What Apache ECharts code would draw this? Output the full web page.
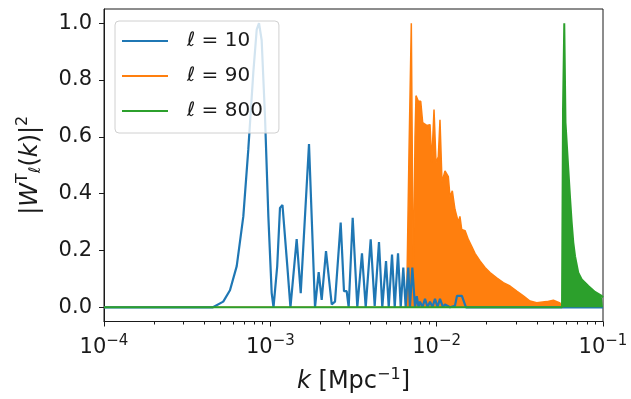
<!DOCTYPE html>
<html>
<head>
<meta charset="utf-8">
<script src="https://cdn.jsdelivr.net/npm/echarts@6/dist/echarts.min.js"></script>
<style>
  html, body { margin: 0; padding: 0; background: #fff; }
  #chart { width: 631px; height: 399px; }
</style>
</head>
<body>
<div id="chart"></div>
<script>
// multipoles shown in the legend
const ells = ['10', '90', '800'];
const colors = ['#1f77b4', '#ff7f0e', '#2ca02c'];

// l = 10 window
const kL10 = [1e-4, 4.52e-4, 5.21e-4, 5.72e-4, 6.28e-4, 6.88e-4, 7.37e-4, 7.90e-4, 8.28e-4, 8.55e-4,
  8.87e-4, 9.29e-4, 9.73e-4, 1.019e-3, 1.045e-3, 1.10e-3, 1.143e-3, 1.183e-3, 1.213e-3, 1.265e-3,
  1.321e-3, 1.44e-3, 1.523e-3, 1.565e-3, 1.708e-3, 1.856e-3, 1.953e-3, 2.036e-3, 2.161e-3, 2.213e-3,
  2.339e-3, 2.448e-3, 2.648e-3, 2.772e-3, 2.877e-3, 2.958e-3, 3.127e-3, 3.333e-3, 3.556e-3, 3.744e-3,
  4.012e-3, 4.24e-3, 4.50e-3, 4.71e-3, 4.96e-3, 5.15e-3, 5.39e-3, 5.595e-3, 5.857e-3, 6.08e-3,
  6.30e-3, 6.51e-3, 6.75e-3, 6.91e-3, 7.14e-3, 7.41e-3, 7.59e-3, 7.78e-3, 7.94e-3, 8.22e-3,
  8.51e-3, 8.81e-3, 9.12e-3, 9.44e-3, 9.77e-3, 1.012e-2, 1.047e-2, 1.092e-2, 1.122e-2, 1.202e-2,
  1.288e-2, 1.324e-2, 1.418e-2, 1.50e-2, 0.1];
const wL10 = [0, 0, 0.02, 0.06, 0.145, 0.32, 0.555, 0.826, 0.977, 1.0,
  0.94, 0.67, 0.32, 0.05, 0, 0.145, 0.35, 0.36, 0.357, 0.145,
  0, 0.24, 0.05, 0.05, 0.575, 0, 0.124, 0.026, 0.198, 0.198,
  0.01, 0.02, 0.298, 0.057, 0.057, 0, 0.315, 0, 0.19, 0,
  0.239, 0.005, 0.23, 0, 0.163, 0, 0.186, 0, 0.19, 0,
  0.14, 0, 0.14, 0, 0.14, 0, 0.039, 0, 0.02, 0,
  0.03, 0, 0.02, 0, 0.03, 0, 0.03, 0, 0.01, 0,
  0.005, 0.04, 0.04, 0, 0];

// l = 90 window (envelope of the fast oscillations)
const kL90 = [1e-4, 6.59e-3, 6.82e-3, 7.04e-3, 7.24e-3, 7.41e-3, 7.51e-3, 7.76e-3, 8.02e-3, 8.24e-3,
  8.71e-3, 9.12e-3, 9.34e-3, 9.64e-3, 9.91e-3, 1.023e-2, 1.047e-2, 1.077e-2, 1.122e-2, 1.175e-2,
  1.202e-2, 1.242e-2, 1.288e-2, 1.349e-2, 1.38e-2, 1.414e-2, 1.481e-2, 1.55e-2, 1.624e-2, 1.70e-2,
  1.822e-2, 1.953e-2, 2.093e-2, 2.296e-2, 2.516e-2, 2.76e-2, 3.03e-2, 3.32e-2, 3.64e-2, 3.995e-2,
  4.59e-2, 5.03e-2, 5.51e-2, 5.65e-2, 0.1];
const wL90 = [0, 0, 0.55, 1.0, 0.05, 0.6, 0.745, 0.725, 0.725, 0.65,
  0.64, 0.643, 0.51, 0.696, 0.51, 0.53, 0.66, 0.44, 0.48, 0.46,
  0.39, 0.41, 0.345, 0.30, 0.32, 0.274, 0.27, 0.239, 0.215, 0.19,
  0.163, 0.14, 0.122, 0.104, 0.087, 0.075, 0.057, 0.04, 0.022, 0.016,
  0.02, 0.025, 0.015, 0, 0];

// l = 800 window
const kL800 = [1e-4, 5.67e-2, 5.75e-2, 5.85e-2, 5.95e-2, 6.05e-2, 6.18e-2, 6.33e-2, 6.48e-2, 6.63e-2,
  6.79e-2, 7.10e-2, 7.45e-2, 8.16e-2, 8.95e-2, 9.82e-2, 0.1];
const wL800 = [0, 0, 0.7, 1.0, 0.65, 0.58, 0.49, 0.39, 0.30, 0.228,
  0.18, 0.122, 0.098, 0.075, 0.054, 0.04, 0.035];

const yTicks = [0, 0.2, 0.4, 0.6, 0.8, 1.0];
const minorTicks = [2e-4, 3e-4, 4e-4, 5e-4, 6e-4, 7e-4, 8e-4, 9e-4,
  2e-3, 3e-3, 4e-3, 5e-3, 6e-3, 7e-3, 8e-3, 9e-3,
  2e-2, 3e-2, 4e-2, 5e-2, 6e-2, 7e-2, 8e-2, 9e-2];

const font = 'DejaVu Sans';
const ink = '#1a1a1a';
const zip = (k, w) => k.map((x, i) => [x, w[i]]);

const chart = echarts.init(document.getElementById('chart'), null, { renderer: 'canvas' });

chart.setOption({
  animation: false,
  backgroundColor: '#fff',
  grid: {
    left: 104, right: 28, top: 9, bottom: 76,
    show: true, borderColor: ink, borderWidth: 1
  },
  legend: {
    left: 115, top: 21,
    orient: 'vertical',
    padding: [8, 16, 10, 7],
    itemGap: 11,
    itemWidth: 46,
    itemHeight: 2,
    icon: 'rect',
    borderColor: '#d0d0d0', borderWidth: 1, borderRadius: 4,
    backgroundColor: 'rgba(255,255,255,0.8)',
    formatter: (name) => '{i|ℓ} = ' + name,
    textStyle: {
      fontFamily: font, fontSize: 20, color: ink, lineHeight: 24,
      padding: [0, 0, 0, 14],
      rich: { i: { fontFamily: font, fontSize: 20, fontStyle: 'italic', color: ink } }
    },
    data: ells
  },
  xAxis: [
    {
      type: 'log', logBase: 10, min: 1e-4, max: 0.1,
      position: 'bottom',
      axisLine: { onZero: false, lineStyle: { color: ink, width: 1 } },
      axisTick: { length: 5, lineStyle: { color: ink } },
      splitLine: { show: false },
      axisLabel: {
        margin: 12, fontFamily: font, fontSize: 21, color: ink,
        formatter: (v) => '10{sup|−' + Math.abs(Math.round(Math.log10(v))) + '}',
        rich: { sup: { fontFamily: font, fontSize: 15, color: ink, padding: [0, 0, 14, 0] } }
      },
      name: '{i|k} [Mpc{sup|−1}]',
      nameLocation: 'middle',
      nameGap: 45,
      nameTextStyle: {
        fontFamily: font, fontSize: 24, color: ink,
        rich: {
          i: { fontFamily: font, fontSize: 24, fontStyle: 'italic', color: ink },
          sup: { fontFamily: font, fontSize: 16, color: ink, padding: [0, 0, 15, 0] }
        }
      }
    },
    {
      // helper axis in log10 space that only draws the minor ticks
      type: 'value', min: -4, max: -1,
      position: 'bottom',
      axisLine: { show: false, onZero: false },
      axisLabel: { show: false },
      splitLine: { show: false },
      axisTick: {
        show: true, length: 3, lineStyle: { color: ink },
        customValues: minorTicks.map((t) => Math.log10(t))
      }
    }
  ],
  yAxis: {
    type: 'value', min: -0.05, max: 1.05,
    axisLine: { show: true, onZero: false, lineStyle: { color: ink, width: 1 } },
    axisTick: { show: true, length: 5, lineStyle: { color: ink }, customValues: yTicks },
    splitLine: { show: false },
    axisLabel: {
      margin: 12, fontFamily: font, fontSize: 21, color: ink,
      customValues: yTicks,
      formatter: (v) => v.toFixed(1)
    },
    name: '|{i|W}{sup|T}{sub|ℓ}({i|k})|{sup|2}',
    nameLocation: 'middle',
    nameRotate: 90,
    nameGap: 58,
    nameTextStyle: {
      fontFamily: font, fontSize: 24, color: ink,
      rich: {
        i: { fontFamily: font, fontSize: 24, fontStyle: 'italic', color: ink },
        sup: { fontFamily: font, fontSize: 16, color: ink, padding: [0, 0, 15, 0] },
        sub: { fontFamily: font, fontSize: 16, fontStyle: 'italic', color: ink, padding: [10, 0, 0, 0] }
      }
    }
  },
  series: [
    {
      name: ells[0], type: 'line', xAxisIndex: 0, z: 3,
      symbol: 'none', smooth: false,
      lineStyle: { color: colors[0], width: 2.2 },
      itemStyle: { color: colors[0] },
      data: zip(kL10, wL10)
    },
    {
      name: ells[1], type: 'line', xAxisIndex: 0, z: 2,
      symbol: 'none',
      lineStyle: { color: colors[1], width: 1.5 },
      itemStyle: { color: colors[1] },
      areaStyle: { color: colors[1], opacity: 1 },
      data: zip(kL90, wL90)
    },
    {
      name: ells[2], type: 'line', xAxisIndex: 0, z: 4,
      symbol: 'none',
      lineStyle: { color: colors[2], width: 2 },
      itemStyle: { color: colors[2] },
      areaStyle: { color: colors[2], opacity: 1 },
      data: zip(kL800, wL800)
    }
  ]
});
</script>
</body>
</html>
